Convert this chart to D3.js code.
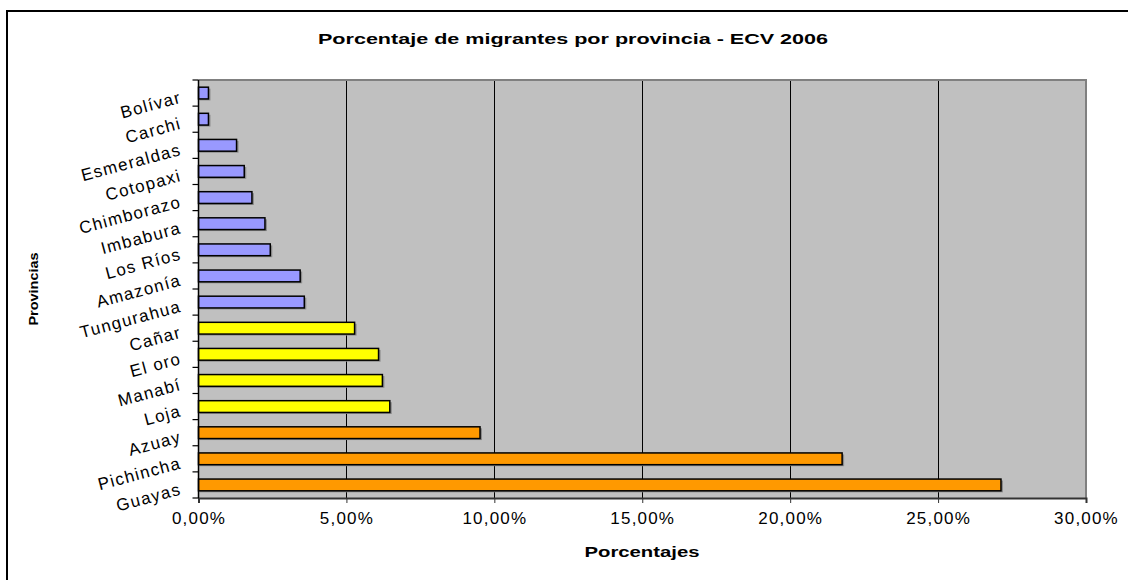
<!DOCTYPE html>
<html>
<head>
<meta charset="utf-8">
<script src="https://cdn.jsdelivr.net/npm/d3@7/dist/d3.min.js"></script>
<style>
  body { margin: 0; background: #fff; }
  svg { display: block; }
  text { font-family: "Liberation Sans", Arial, sans-serif; }
</style>
</head>
<body>
<svg id="chart" width="1128" height="580"></svg>
<script>
const provincias = ["Bolívar","Carchi","Esmeraldas","Cotopaxi","Chimborazo","Imbabura","Los Ríos","Amazonía","Tungurahua","Cañar","El oro","Manabí","Loja","Azuay","Pichincha","Guayas"];
const porcentajes = [0.37,0.37,1.32,1.58,1.84,2.28,2.46,3.47,3.61,5.31,6.12,6.25,6.50,9.55,21.79,27.16];
const grupos = ["bajo","bajo","bajo","bajo","bajo","bajo","bajo","bajo","bajo","medio","medio","medio","medio","alto","alto","alto"];
const xTicks = [0,5,10,15,20,25,30];
const colores = {bajo:"#9999FF", medio:"#FFFF00", alto:"#FF9900"};

const svg = d3.select("#chart");
const m = {left:198.5, right:1086, top:80, bottom:498};

// outer frame
svg.append("path").attr("d","M7,580 V11 H1128").attr("fill","none").attr("stroke","#000").attr("stroke-width",2);

const x = d3.scaleLinear().domain([0,30]).range([m.left, m.right]);
const y = d3.scaleBand().domain(provincias).range([m.top, m.bottom]).paddingInner(0.55).paddingOuter(0.275);
const yb = d3.scaleBand().domain(provincias).range([m.top, m.bottom]);

// plot background
svg.append("rect").attr("x",m.left).attr("y",m.top).attr("width",m.right-m.left).attr("height",m.bottom-m.top)
  .attr("fill","#C0C0C0");

// gridlines
svg.append("g").selectAll("line").data(xTicks.slice(1,-1)).join("line")
  .attr("x1",d=>x(d)).attr("x2",d=>x(d)).attr("y1",m.top).attr("y2",m.bottom)
  .attr("stroke","#000").attr("stroke-width",1).attr("shape-rendering","crispEdges");

// plot border top/right
svg.append("path").attr("d",`M${m.left},${m.top} H${m.right} V${m.bottom}`).attr("fill","none")
  .attr("stroke","#808080").attr("stroke-width",2);

const data = provincias.map((p,i)=>({p, v:porcentajes[i], g:grupos[i]}));

// shadows
svg.append("g").selectAll("rect").data(data).join("rect")
  .attr("x",m.left+1).attr("y",d=>y(d.p)+1.5).attr("width",d=>x(d.v)-m.left).attr("height",y.bandwidth())
  .attr("fill","#8a8a8a");
// bars
svg.append("g").selectAll("rect").data(data).join("rect")
  .attr("x",m.left).attr("y",d=>y(d.p)).attr("width",d=>x(d.v)-m.left-1).attr("height",y.bandwidth())
  .attr("fill",d=>colores[d.g]).attr("stroke","#000").attr("stroke-width",1.5);

// x axis
const xAxis = d3.axisBottom(x).tickValues(xTicks).tickSize(5).tickFormat(d=>d3.format(".2f")(d).replace(".",",")+"%");
const gx = svg.append("g").attr("transform",`translate(0,${m.bottom})`).call(xAxis);
gx.select(".domain").attr("stroke","#333").attr("stroke-width",2);
gx.selectAll(".tick line").attr("stroke","#333");
gx.selectAll(".tick text").attr("font-size",17).attr("letter-spacing","1.2px").attr("fill","#000")
  .attr("y",22).attr("dy",0).attr("dominant-baseline","middle")
  .attr("font-family","'Liberation Sans', Arial, sans-serif");

// y axis line and ticks
svg.append("line").attr("x1",m.left).attr("x2",m.left).attr("y1",m.top).attr("y2",m.bottom).attr("stroke","#000").attr("stroke-width",1.5);
const bounds = provincias.map(p=>yb(p)).concat([m.bottom]);
svg.append("g").selectAll("line").data(bounds).join("line")
  .attr("x1",m.left-6).attr("x2",m.left).attr("y1",d=>d).attr("y2",d=>d).attr("stroke","#000").attr("stroke-width",1.2);

// category labels
svg.append("g").selectAll("text").data(provincias).join("text")
  .attr("transform",p=>`translate(181,${yb(p)+yb.bandwidth()/2+5}) rotate(-15)`)
  .attr("text-anchor","end").attr("dominant-baseline","middle")
  .attr("font-size",17).attr("letter-spacing","1.3px").attr("fill","#000").text(p=>p);

// title
svg.append("text").attr("x",573).attr("y",44).attr("text-anchor","middle")
  .attr("font-size",15).attr("font-weight","bold")
  .attr("textLength",510).attr("lengthAdjust","spacingAndGlyphs")
  .text("Porcentaje de migrantes por provincia - ECV 2006");

// axis titles
svg.append("text").attr("x",642).attr("y",557).attr("text-anchor","middle")
  .attr("font-size",15).attr("font-weight","bold")
  .attr("textLength",115).attr("lengthAdjust","spacingAndGlyphs").text("Porcentajes");
svg.append("text").attr("transform","translate(38,289) rotate(-90)").attr("text-anchor","middle")
  .attr("font-size",13).attr("font-weight","bold")
  .attr("textLength",73).attr("lengthAdjust","spacingAndGlyphs").text("Provincias");
</script>
</body>
</html>
